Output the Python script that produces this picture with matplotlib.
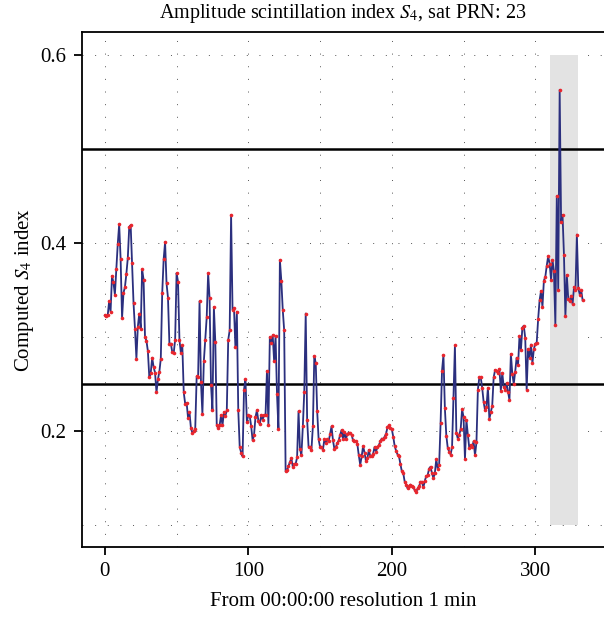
import numpy as np
import matplotlib
matplotlib.use("Agg")
import matplotlib.pyplot as plt

plt.rcParams['font.family'] = ['Liberation Serif', 'DejaVu Serif']
plt.rcParams['mathtext.fontset'] = 'stix'

# S4 values, one per minute in pieces
s4_part_a = [0.323, 0.322, 0.323, 0.338, 0.327, 0.365, 0.358, 0.345, 0.372, 0.399,
             0.420, 0.383, 0.320, 0.347, 0.353, 0.367, 0.384, 0.417, 0.419, 0.379,
             0.336, 0.309, 0.277, 0.311, 0.325, 0.309, 0.372, 0.361, 0.300, 0.296,
             0.285, 0.257, 0.262, 0.278, 0.268, 0.262, 0.241, 0.255, 0.263, 0.277,
             0.347, 0.383, 0.401, 0.357, 0.342, 0.293, 0.293, 0.284, 0.283, 0.297,
             0.368, 0.359, 0.297, 0.283, 0.291, 0.241, 0.229, 0.230, 0.214, 0.220,
             0.203, 0.198, 0.200, 0.202, 0.258, 0.257]
s4_part_b = [0.338, 0.252, 0.218, 0.274, 0.297, 0.321, 0.368, 0.341, 0.249, 0.222,
             0.332, 0.295, 0.206, 0.203, 0.206, 0.217, 0.206, 0.220, 0.216, 0.222,
             0.297, 0.307, 0.430, 0.329, 0.331, 0.289, 0.327, 0.222, 0.183, 0.177,
             0.173, 0.244, 0.255, 0.210, 0.217, 0.216, 0.205, 0.190, 0.196, 0.215,
             0.222, 0.211, 0.207, 0.217, 0.212, 0.217, 0.217, 0.264, 0.206, 0.300,
             0.294, 0.302, 0.274, 0.301, 0.239, 0.202, 0.382, 0.360, 0.329, 0.307,
             0.157, 0.158, 0.163, 0.167, 0.171]
s4_part_c = [0.162, 0.165, 0.165, 0.172, 0.221, 0.181, 0.174, 0.205, 0.242, 0.325,
             0.212, 0.183, 0.183, 0.180, 0.205, 0.280, 0.272, 0.221, 0.191, 0.183,
             0.183, 0.180, 0.191, 0.187, 0.191, 0.189, 0.197, 0.205, 0.190, 0.181,
             0.183, 0.187, 0.190, 0.196, 0.201, 0.191, 0.199, 0.191, 0.197, 0.198,
             0.198, 0.196, 0.190, 0.189, 0.189, 0.186, 0.174, 0.164, 0.173, 0.184,
             0.177, 0.168, 0.171, 0.180, 0.173, 0.173, 0.176, 0.183, 0.178, 0.183,
             0.185, 0.189, 0.192, 0.191, 0.194, 0.197, 0.204]
s4_part_d = [0.206, 0.203, 0.202, 0.194, 0.184, 0.179, 0.175, 0.173, 0.165, 0.157,
             0.155, 0.146, 0.143, 0.139, 0.141, 0.143, 0.141, 0.140, 0.137, 0.135,
             0.139, 0.141, 0.146, 0.146, 0.140, 0.147, 0.152, 0.153, 0.160, 0.162,
             0.155, 0.150, 0.155, 0.170, 0.160, 0.164, 0.208, 0.264, 0.281, 0.224,
             0.195, 0.182, 0.178, 0.175, 0.183, 0.235, 0.291, 0.198, 0.192, 0.196,
             0.202, 0.223, 0.215, 0.170, 0.212, 0.196, 0.182, 0.185, 0.183, 0.189,
             0.174, 0.188, 0.244, 0.257]
s4_part_e = [0.257, 0.246, 0.231, 0.222, 0.226, 0.246, 0.213, 0.220, 0.227, 0.257,
             0.265, 0.264, 0.262, 0.266, 0.243, 0.262, 0.247, 0.244, 0.251, 0.242,
             0.233, 0.282, 0.261, 0.250, 0.263, 0.278, 0.270, 0.301, 0.286, 0.310,
             0.312, 0.299, 0.244, 0.287, 0.278, 0.292, 0.272, 0.287, 0.293, 0.294,
             0.319, 0.339, 0.349, 0.332, 0.360, 0.364, 0.376, 0.386, 0.378, 0.361,
             0.382, 0.370]
s4_part_f = [0.313, 0.450, 0.350, 0.563, 0.422, 0.430, 0.387, 0.322, 0.366, 0.340,
             0.338, 0.344, 0.335, 0.353, 0.350, 0.409, 0.352, 0.345, 0.350, 0.339]

s4 = np.array(s4_part_a + s4_part_b + s4_part_c + s4_part_d + s4_part_e + s4_part_f)
minutes = np.arange(len(s4))

thresholds = [0.25, 0.5]
event_window = [310, 330]
event_range = [0.1, 0.6]

x_ticks = [0, 100, 200, 300]
y_ticks = [0.2, 0.4, 0.6]

fig = plt.figure(figsize=(6.04, 6.18), dpi=100)
ax = fig.add_axes([0.1358, 0.1149, 0.8642, 0.8333])

ax.set_xlim(-15.9, 347.9)
ax.set_ylim(0.0766, 0.6245)

# dotted grid
for gx in np.arange(0, 351, 50):
    ax.axvline(gx, color='#555555', lw=0.7, ls=(0, (1, 12)), zorder=0)
for gy in np.arange(0.1, 0.61, 0.1):
    ax.axhline(gy, color='#555555', lw=0.7, ls=(0, (1, 12)), zorder=0)

ax.fill_between(event_window, event_range[0], event_range[1], color='#e3e3e3', lw=0, zorder=1)

for t in thresholds:
    ax.axhline(t, color='black', lw=1.8, zorder=2)

ax.plot(minutes, s4, color='#2b2f7e', lw=1.3, zorder=3)
ax.plot(minutes, s4, ls='none', marker='o', ms=2.6, color='#e8262e', mec='none', zorder=4)

ax.set_xticks(x_ticks)
ax.set_yticks(y_ticks)
ax.set_yticklabels([f'{v:.1f}' for v in y_ticks])
ax.tick_params(direction='out', length=6, width=1.3, labelsize=15, pad=5)
for side in ['left', 'top', 'bottom']:
    ax.spines[side].set_linewidth(1.3)
ax.spines['right'].set_visible(False)

ax.set_xlabel('From 00:00:00 resolution 1 min', fontsize=15, labelpad=8)
ax.set_ylabel('Computed $S_4$ index', fontsize=15, labelpad=3)
ax.set_title('Amplitude scintillation index $S_4$, sat PRN: 23', fontsize=14.5, pad=10)

fig.savefig('out.png', dpi=100)
